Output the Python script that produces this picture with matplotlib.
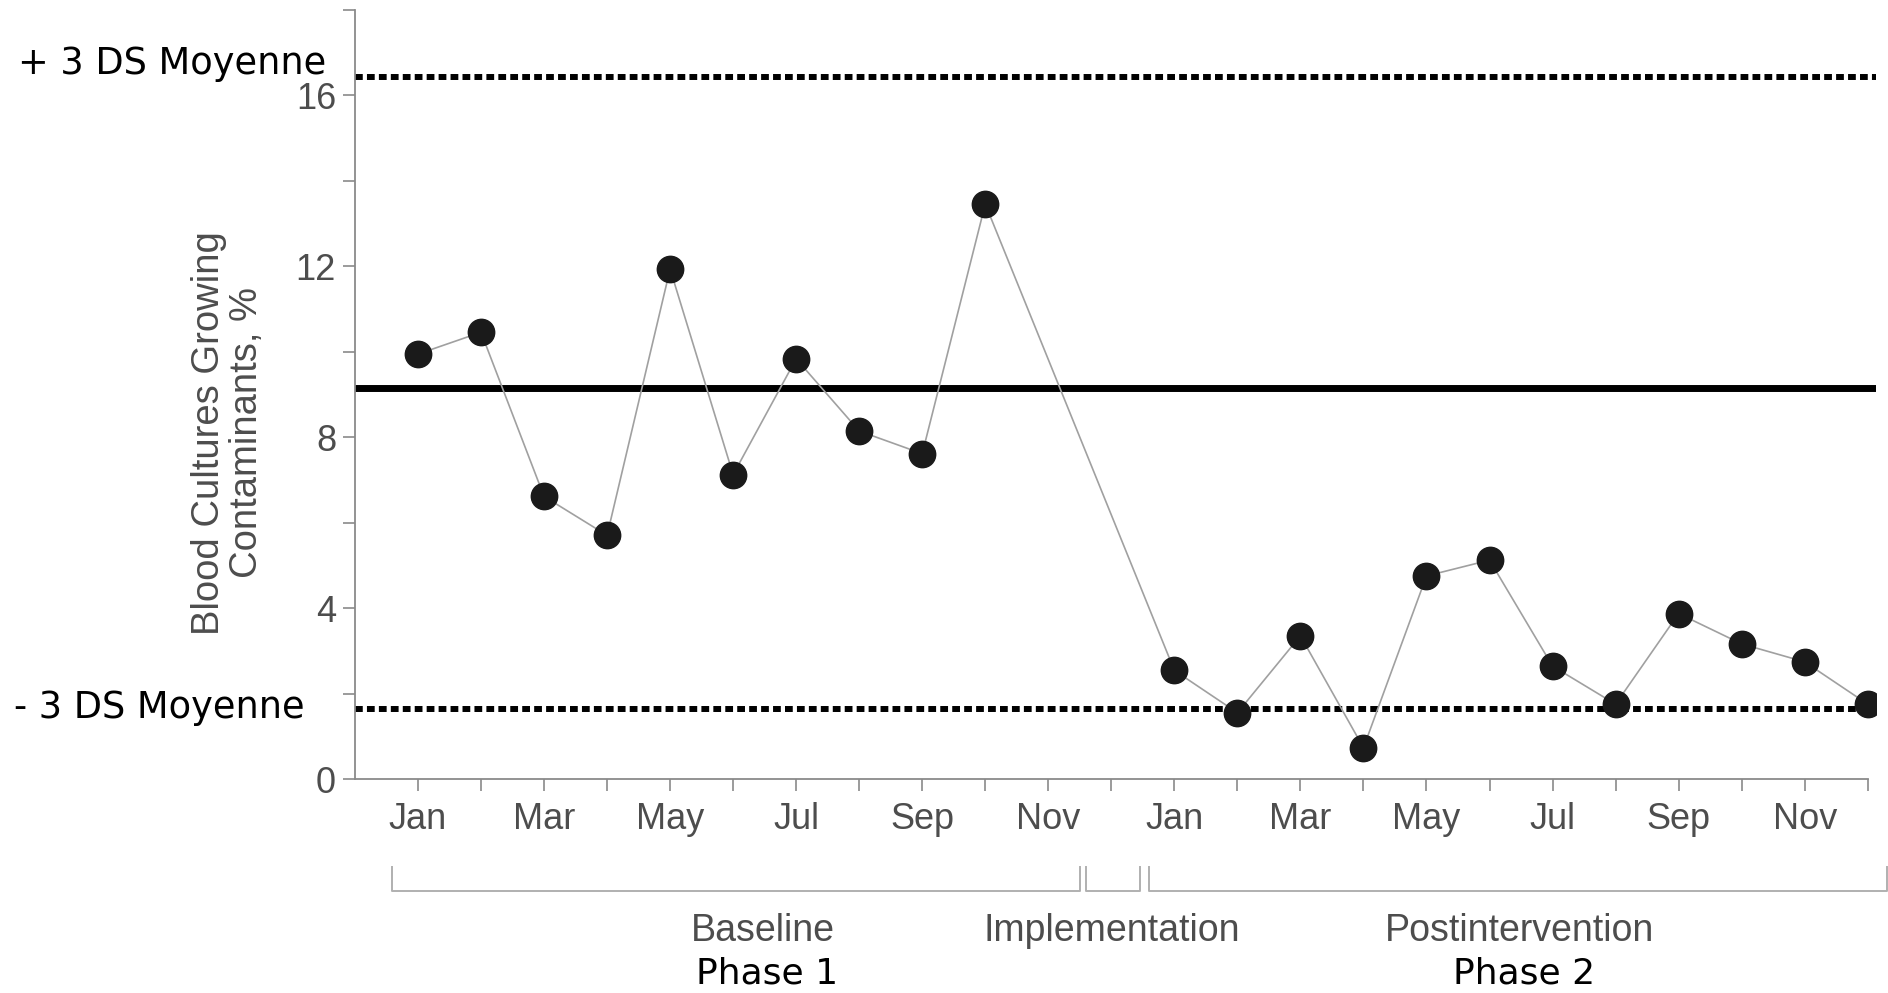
import numpy as np
import matplotlib.pyplot as plt

# monthly contamination rate (%), Jan year 1 -> Dec year 2 (Nov/Dec year 1 missing)
month_idx = [0, 1, 2, 3, 4, 5, 6, 7, 8, 9,
             12, 13, 14, 15, 16, 17, 18, 19, 20, 21, 22, 23]
rate = [9.94, 10.45, 6.61, 5.70, 11.93, 7.12, 9.83, 8.14, 7.61, 13.45,
        2.54, 1.55, 3.35, 0.73, 4.75, 5.12, 2.64, 1.75, 3.87, 3.16, 2.74, 1.75]

month_labels = ['Jan', '', 'Mar', '', 'May', '', 'Jul', '', 'Sep', '', 'Nov', ''] * 2

mean_val = 9.15
upper_lim = 16.43
lower_lim = 1.63

phase_names = ['Baseline', 'Implementation', 'Postintervention']
phase_spans = [(-0.41, 10.5), (10.6, 11.45), (11.6, 23.3)]

gray_txt = '#4d4d4d'
tick_font = 'Liberation Sans'
note_font = 'DejaVu Sans'

fig = plt.figure(figsize=(18.88, 9.93), dpi=100)
ax = fig.add_axes([0.188, 0.2155, 0.8056, 0.7749])

ax.axhline(mean_val, color='black', lw=5, zorder=2)
ax.axhline(upper_lim, color='black', lw=4.3, ls=(0, (1.3, 0.7)), zorder=2)
ax.axhline(lower_lim, color='black', lw=4.3, ls=(0, (1.3, 0.7)), zorder=2)

ax.plot(month_idx, rate, color='#a0a0a0', lw=1.2, zorder=3)
ax.plot(month_idx, rate, 'o', color='#1a1a1a', ms=19, zorder=4)

ax.set_xlim(-1.0, 23.13)
ax.set_ylim(0, 18)

for s in ['top', 'right']:
    ax.spines[s].set_visible(False)
for s in ['left', 'bottom']:
    ax.spines[s].set_color('#8a8a8a')
    ax.spines[s].set_linewidth(1.3)
ax.spines['bottom'].set_bounds(-1.0, 23)

ax.set_xticks(range(24))
ax.set_xticklabels(month_labels)
ax.set_yticks(range(0, 19, 2))
ax.set_yticklabels([str(v) if v % 4 == 0 and v < 18 else '' for v in range(0, 19, 2)])
ax.tick_params(axis='x', length=8.6, width=1.2, color='#8a8a8a', pad=8,
               labelsize=26, labelcolor=gray_txt)
ax.tick_params(axis='y', length=8.6, width=1.2, color='#8a8a8a', pad=5,
               labelsize=26, labelcolor=gray_txt)
for lab in ax.get_xticklabels() + ax.get_yticklabels():
    lab.set_fontfamily(tick_font)

ax.text(-0.0835, 0.45, 'Blood Cultures Growing\nContaminants, %', transform=ax.transAxes,
        rotation=90, ha='center', va='center', fontsize=27.5, color=gray_txt,
        family=tick_font, linespacing=1.1)

# phase brackets under the axis
for (a, b), name in zip(phase_spans, phase_names):
    ax.plot([a, a, b, b], [-2.06, -2.62, -2.62, -2.06], color='#b0b0b0', lw=1.4,
            clip_on=False)
ax.text(5.47, -3.55, 'Baseline', ha='center', va='center', fontsize=27,
        color=gray_txt, family=tick_font)
ax.text(11.0, -3.55, 'Implementation', ha='center', va='center', fontsize=27,
        color=gray_txt, family=tick_font)
ax.text(17.47, -3.55, 'Postintervention', ha='center', va='center', fontsize=27,
        color=gray_txt, family=tick_font)
ax.text(5.54, -4.54, 'Phase 1', ha='center', va='center', fontsize=26,
        color='black', family=note_font)
ax.text(17.55, -4.54, 'Phase 2', ha='center', va='center', fontsize=26,
        color='black', family=note_font)

fig.text(18 / 1888, 1 - 64 / 993, '+ 3 DS Moyenne', ha='left', va='center',
         fontsize=26.5, family=note_font)
fig.text(14 / 1888, 1 - 707 / 993, '- 3 DS Moyenne', ha='left', va='center',
         fontsize=26.5, family=note_font)

fig.savefig('out.png', dpi=100)
